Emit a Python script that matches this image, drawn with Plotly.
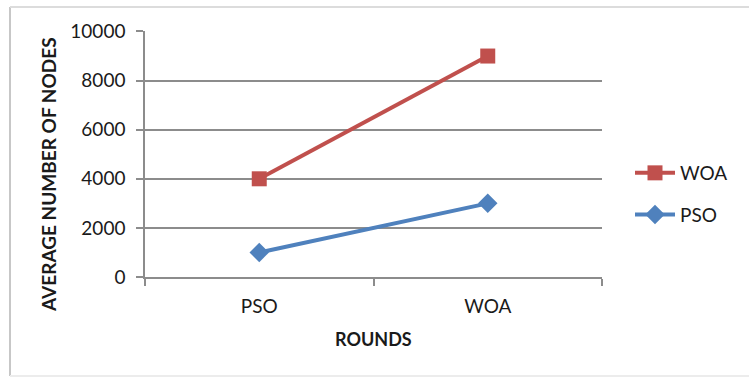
import plotly.graph_objects as go

# Categories on the x axis and series values
rounds = ["PSO", "WOA"]
woa_nodes = [4000, 9000]
pso_nodes = [1000, 3000]
y_ticks = [0, 2000, 4000, 6000, 8000, 10000]
y_tick_labels = ["0", "2000", "4000", "6000", "8000", "10000"]

W, H = 749, 377
L, R, T, B = 145, 147, 31, 100
pw, ph = W - L - R, H - T - B

def px_x(x):
    return (x - L) / pw

def px_y(y):
    return (H - B - y) / ph

font_family = "Lato, 'Open Sans', Arial, sans-serif"

fig = go.Figure()
fig.add_trace(go.Scatter(
    x=rounds, y=woa_nodes, name="WOA", mode="lines+markers", legendgroup="woa",
    line=dict(color="#C0504D", width=4),
    marker=dict(symbol="square", size=15, color="#C0504D"),
))
fig.add_trace(go.Scatter(
    x=rounds, y=pso_nodes, name="PSO", mode="lines+markers", legendgroup="pso",
    line=dict(color="#4F81BD", width=4),
    marker=dict(symbol="diamond", size=15, color="#4F81BD"),
))

# Outer chart border
shapes = [
    dict(type="line", xref="paper", yref="paper", x0=px_x(10), x1=px_x(10),
         y0=px_y(7), y1=px_y(376), line=dict(color="#b5b5b5", width=1.5)),
    dict(type="line", xref="paper", yref="paper", x0=px_x(10), x1=px_x(760),
         y0=px_y(7), y1=px_y(7), line=dict(color="#dcdcdc", width=2)),
    dict(type="line", xref="paper", yref="paper", x0=px_x(10), x1=px_x(760),
         y0=px_y(376), y1=px_y(376), line=dict(color="#ececec", width=2)),
]

# Axis titles
annotations = [
    dict(text="<b>AVERAGE NUMBER OF NODES</b>", textangle=-90,
         xref="paper", yref="paper", x=px_x(48), y=px_y(175),
         xanchor="center", yanchor="middle", showarrow=False,
         font=dict(size=19)),
    dict(text="<b>ROUNDS</b>",
         xref="paper", yref="paper", x=px_x(373), y=px_y(339),
         xanchor="center", yanchor="middle", showarrow=False,
         font=dict(size=18)),
]

fig.update_layout(
    width=W, height=H,
    margin=dict(l=L, r=R, t=T, b=B, pad=0),
    paper_bgcolor="white", plot_bgcolor="white",
    font=dict(family=font_family, size=19, color="#1a1a1a"),
    shapes=shapes,
    annotations=annotations,
    showlegend=True,
    legend=dict(
        x=px_x(630), y=px_y(154), xanchor="left", yanchor="top",
        font=dict(size=19), itemwidth=40, tracegroupgap=14,
        bgcolor="rgba(0,0,0,0)",
    ),
    xaxis=dict(
        type="category", range=[-0.5, 1.5],
        tickson="boundaries", ticks="outside", ticklen=7,
        tickcolor="#8c8c8c", tickwidth=1.5,
        showline=True, linecolor="#8c8c8c", linewidth=1.5,
        showgrid=False, zeroline=False,
        tickfont=dict(size=19), ticklabelstandoff=11,
    ),
    yaxis=dict(
        range=[0, 10020], tickvals=y_ticks, ticktext=y_tick_labels,
        ticks="outside", ticklen=7, tickcolor="#8c8c8c", tickwidth=1.5,
        showline=True, linecolor="#8c8c8c", linewidth=1.5,
        showgrid=True, gridcolor="#8c8c8c", gridwidth=1.5,
        zeroline=False,
        tickfont=dict(size=19), ticklabelstandoff=7,
    ),
)

fig.write_html("out.html")
